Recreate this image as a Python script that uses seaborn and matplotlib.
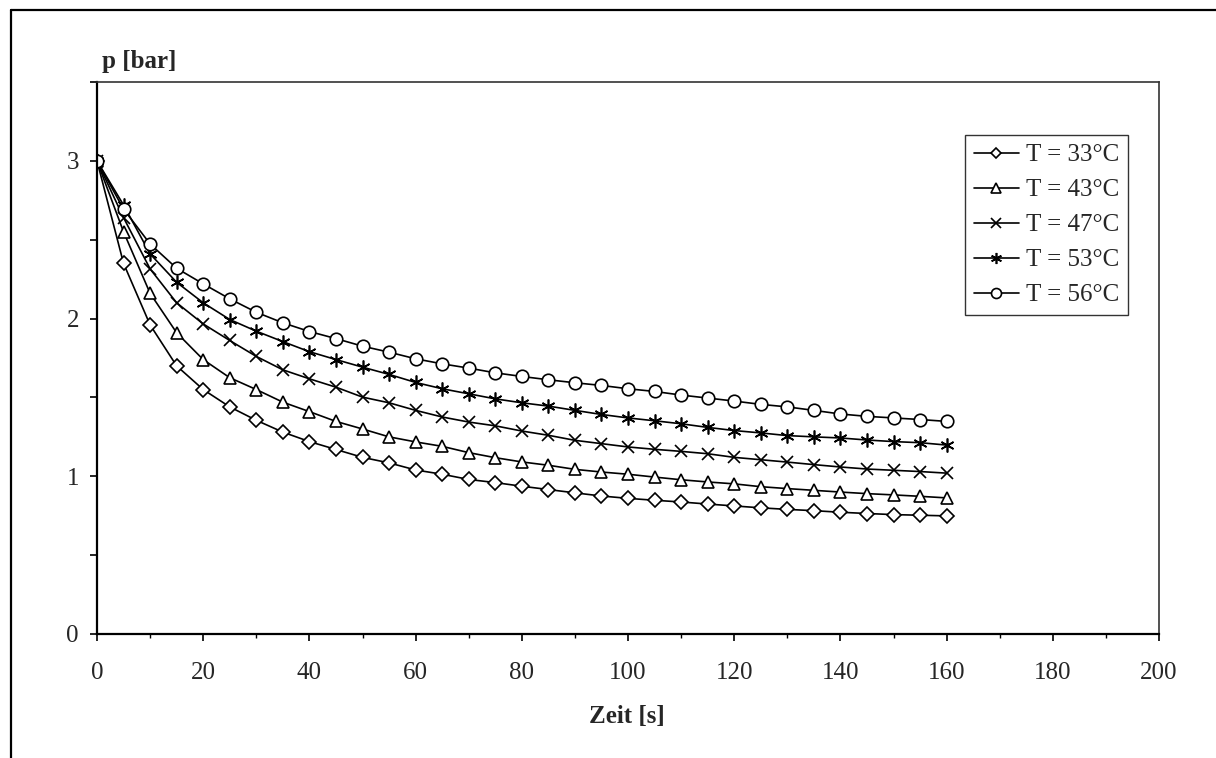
import matplotlib
matplotlib.use("Agg")
import matplotlib.pyplot as plt
from matplotlib.lines import Line2D
import seaborn as sns
import pandas as pd

# time axis in seconds
zeit = list(range(0, 161, 5))

# pressure readings p [bar] per temperature
p_33 = [3.00, 2.35, 1.96, 1.70, 1.55, 1.44, 1.355, 1.28, 1.22, 1.17, 1.12, 1.085, 1.04,
        1.013, 0.98, 0.96, 0.937, 0.916, 0.895, 0.875, 0.86, 0.848, 0.837, 0.824, 0.812,
        0.80, 0.79, 0.782, 0.772, 0.764, 0.757, 0.753, 0.749]
p_43 = [3.00, 2.55, 2.16, 1.91, 1.74, 1.625, 1.55, 1.47, 1.41, 1.348, 1.30, 1.25, 1.218,
        1.19, 1.15, 1.118, 1.091, 1.07, 1.044, 1.027, 1.013, 0.995, 0.978, 0.964, 0.952,
        0.934, 0.922, 0.911, 0.90, 0.89, 0.882, 0.873, 0.863]
p_47 = [3.00, 2.64, 2.315, 2.10, 1.966, 1.861, 1.76, 1.675, 1.618, 1.565, 1.502, 1.466,
        1.418, 1.376, 1.344, 1.32, 1.287, 1.26, 1.228, 1.207, 1.186, 1.171, 1.158, 1.143,
        1.12, 1.105, 1.09, 1.074, 1.059, 1.046, 1.038, 1.03, 1.02]
p_53 = [3.00, 2.72, 2.41, 2.23, 2.10, 1.994, 1.92, 1.854, 1.79, 1.74, 1.692, 1.646, 1.595,
        1.555, 1.523, 1.491, 1.466, 1.445, 1.418, 1.392, 1.37, 1.352, 1.333, 1.31, 1.29,
        1.275, 1.258, 1.25, 1.243, 1.23, 1.22, 1.213, 1.198]
p_56 = [3.00, 2.694, 2.473, 2.319, 2.22, 2.125, 2.04, 1.973, 1.918, 1.873, 1.825, 1.787,
        1.745, 1.713, 1.686, 1.656, 1.633, 1.612, 1.593, 1.576, 1.555, 1.538, 1.515, 1.496,
        1.477, 1.456, 1.44, 1.418, 1.395, 1.38, 1.37, 1.36, 1.348]

labels = ["T = 33°C", "T = 43°C", "T = 47°C", "T = 53°C", "T = 56°C"]
series = [p_33, p_43, p_47, p_53, p_56]
markers = ["D", "^", "x", (6, 2, 0), "o"]
marker_sizes = [7, 9, 9, 10, 9]

x_ticks = list(range(0, 201, 20))
y_ticks = [0, 0.5, 1, 1.5, 2, 2.5, 3, 3.5]
y_ticklabels = ["0", "", "1", "", "2", "", "3", ""]


def main():
    sns.set_style("white")
    plt.rcParams["font.family"] = ["Liberation Serif", "DejaVu Serif"]

    fig = plt.figure(figsize=(12.16, 7.58), dpi=100)
    ax = fig.add_axes([97 / 1216, 1 - 634 / 758, 1062 / 1216, 552 / 758])

    # one lineplot per temperature so each gets its own marker
    for label, values, marker, ms in zip(labels, series, markers, marker_sizes):
        df = pd.DataFrame({"Zeit": zeit, "p": values})
        sns.lineplot(data=df, x="Zeit", y="p", ax=ax, color="black", linewidth=1.2,
                     marker=marker, markersize=ms, markerfacecolor="white",
                     markeredgecolor="black", markeredgewidth=1.2, label=label)

    ax.set_xlim(0, 200)
    ax.set_ylim(0, 3.5)
    ax.set_xticks(x_ticks)
    ax.set_xticks(range(10, 200, 20), minor=True)
    ax.set_yticks(y_ticks)
    ax.set_yticklabels(y_ticklabels)
    ax.set_xlabel("")
    ax.set_ylabel("")
    ax.tick_params(axis="x", which="major", direction="out", length=5, width=1.2,
                   labelsize=18, pad=15, bottom=True, color="black")
    ax.tick_params(axis="x", which="minor", direction="out", length=3, width=1.0,
                   bottom=True, color="black")
    ax.tick_params(axis="y", direction="out", length=5, width=1.2, labelsize=18,
                   pad=8, left=True, color="black")

    for side in ["left", "bottom"]:
        ax.spines[side].set_color("black")
        ax.spines[side].set_linewidth(1.6)
    for side in ["top", "right"]:
        ax.spines[side].set_color("#333333")
        ax.spines[side].set_linewidth(1.2)

    leg = ax.legend(loc="upper right", bbox_to_anchor=((1128 - 97) / 1062, 1 - (135 - 82) / 552),
                    borderaxespad=0, fontsize=18, frameon=True, fancybox=False,
                    edgecolor="black", handlelength=1.8, handletextpad=0.3,
                    labelspacing=0.5, borderpad=0.35, markerscale=0.8)
    leg.get_frame().set_linewidth(1.0)

    fig.text(102 / 1216, 1 - 68 / 758, "p [bar]", fontsize=18, fontweight="bold",
             ha="left", va="baseline")
    fig.text(627 / 1216, 1 - 723 / 758, "Zeit [s]", fontsize=18, fontweight="bold",
             ha="center", va="baseline")

    # outer frame of the figure (cut off on the right and bottom)
    fig.add_artist(Line2D([11 / 1216, 11 / 1216], [0, 1 - 10 / 758], transform=fig.transFigure,
                          color="black", linewidth=1.6))
    fig.add_artist(Line2D([11 / 1216, 1], [1 - 10 / 758, 1 - 10 / 758], transform=fig.transFigure,
                          color="black", linewidth=1.6))

    fig.savefig("out.png", dpi=100, facecolor="white")


if __name__ == "__main__":
    main()
